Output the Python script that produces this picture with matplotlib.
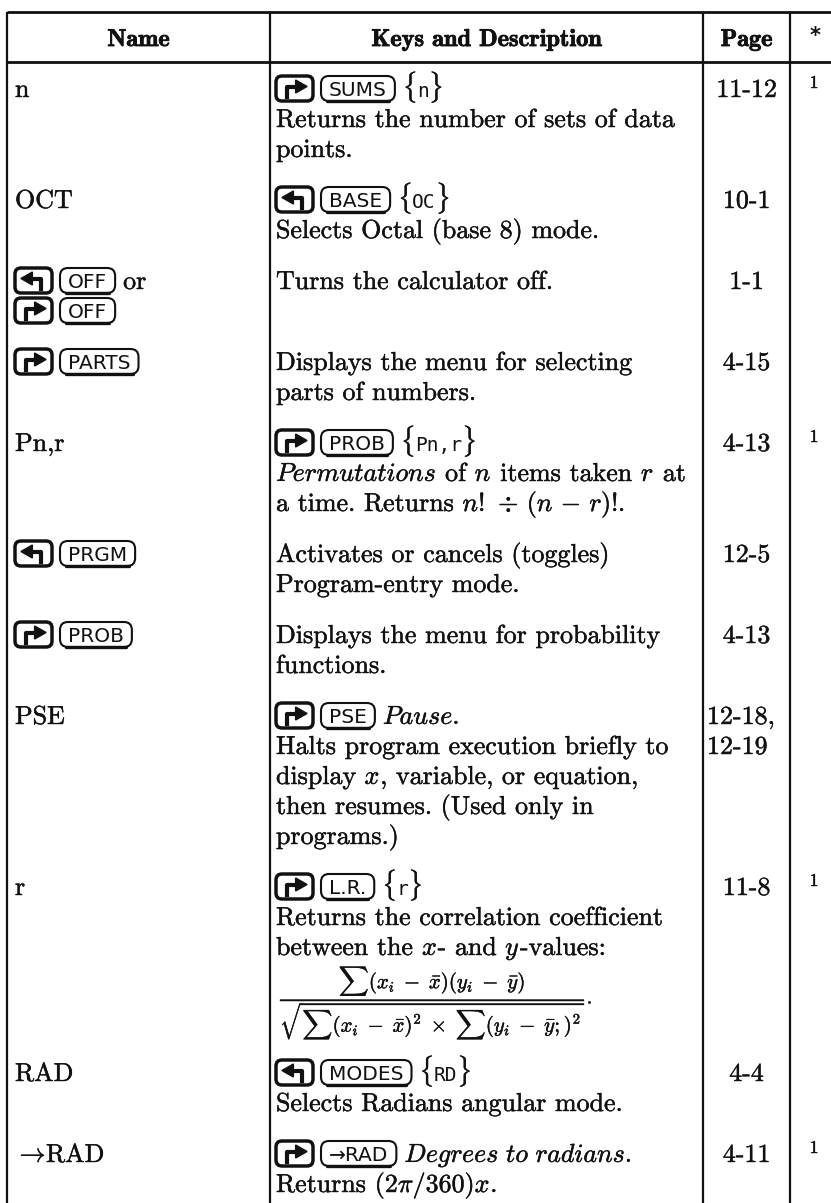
import re
import matplotlib
matplotlib.use("Agg")
import matplotlib.pyplot as plt
import matplotlib.patheffects as pe
from matplotlib.patches import FancyBboxPatch, Polygon

plt.rcParams['mathtext.fontset'] = 'cm'
plt.rcParams['axes.unicode_minus'] = False

# ---------------- data ----------------
headers = ["Name", "Keys and Description", "Page", "*"]

names = [
    ["n"],
    ["OCT"],
    ["[L] [OFF] or", "[R] [OFF]"],
    ["[R] [PARTS]"],
    ["Pn,r"],
    ["[L] [PRGM]"],
    ["[R] [PROB]"],
    ["PSE"],
    ["r"],
    ["RAD"],
    [r"$\rightarrow$RAD"],
]

descriptions = [
    ["[R] [SUMS] {n}", "Returns the number of sets of data", "points."],
    ["[L] [BASE] {OC}", "Selects Octal (base 8) mode."],
    ["Turns the calculator off."],
    ["Displays the menu for selecting", "parts of numbers."],
    ["[R] [PROB] {Pn,r}", r"$\mathit{Permutations}$ of $n$ items taken $r$ at",
     r"a time. Returns $n!\,\div\,(n\,-\,r)!$."],
    ["Activates or cancels (toggles)", "Program-entry mode."],
    ["Displays the menu for probability", "functions."],
    [r"[R] [PSE] $\mathit{Pause.}$", "Halts program execution briefly to",
     r"display $x$, variable, or equation,", "then resumes. (Used only in", "programs.)"],
    ["[R] [L.R.] {r}", "Returns the correlation coefficient",
     r"between the $x$- and $y$-values:"],
    ["[L] [MODES] {RD}", "Selects Radians angular mode."],
    [r"[R] [→RAD] $\mathit{Degrees\ to\ radians.}$", r"Returns $(2\pi/360)x$."],
]

pages = [["11-12"], ["10-1"], ["1-1"], ["4-15"], ["4-13"], ["12-5"], ["4-13"],
         ["12-18,", "12-19"], ["11-8"], ["4-4"], ["4-11"]]

notes = ["1", "", "", "", "1", "", "", "", "1", "", "1"]

formula_row = 8
formula = (r"$\dfrac{\sum(x_i\;-\;\bar{x})(y_i\;-\;\bar{y})}"
           r"{\sqrt{\sum(x_i\;-\;\bar{x})^2\;\times\;\sum(y_i\;-\;\bar{y};)^2}}$.")

# ---------------- layout ----------------
W, H = 831, 1203
fig = plt.figure(figsize=(W / 100, H / 100), dpi=100)
ax = fig.add_axes([0, 0, 1, 1])
ax.set_xlim(0, W)
ax.set_ylim(H, 0)
ax.axis('off')
renderer = fig.canvas.get_renderer()

INK = '#111111'
THIN = [pe.withStroke(linewidth=0.3, foreground=INK)]
THICK = [pe.withStroke(linewidth=0.6, foreground=INK)]
BODY_FS = 18.7
BODY = dict(family='cmr10', size=BODY_FS, color=INK, path_effects=THIN)
KEY_FS = 14.5
LCD_FS = 14

col_x = [7, 270, 703, 790, W]
top_y, head_y = 12, 62
P, G, FORMULA_EXTRA = 30, 51, 75
FIRST = 90
BASE_OFF = 7
KEY_GAP = 8


def width(t):
    return t.get_window_extent(renderer).width


_t1 = ax.text(0, -100, "n n", **BODY)
_t2 = ax.text(0, -100, "nn", **BODY)
SP = width(_t1) - width(_t2)
_t1.remove(); _t2.remove()


def shift_key(x, base, side):
    w, h = 37, 25
    yc = base - 8.5
    ax.add_patch(FancyBboxPatch((x, yc - h / 2), w, h,
                                boxstyle="round,pad=0,rounding_size=6",
                                lw=2.5, ec=INK, fc='white', zorder=3))
    ym = yc - 2
    if side == 'R':
        xs = [x + 0.30 * w, x + 0.30 * w, x + 0.55 * w]
        ys = [yc + 0.34 * h, ym, ym]
        head = [(x + 0.53 * w, ym - 6.5), (x + 0.84 * w, ym), (x + 0.53 * w, ym + 6.5)]
    else:
        xs = [x + 0.70 * w, x + 0.70 * w, x + 0.45 * w]
        ys = [yc + 0.34 * h, ym, ym]
        head = [(x + 0.47 * w, ym - 6.5), (x + 0.16 * w, ym), (x + 0.47 * w, ym + 6.5)]
    ax.plot(xs, ys, color=INK, lw=3.0, solid_joinstyle='round', zorder=4)
    ax.add_patch(Polygon(head, closed=True, color=INK, zorder=4))
    return w


def key_cap(x, base, label):
    pad = 8
    yc = base - 8.5
    t = ax.text(x + pad, yc + 7.3, label, family='DejaVu Sans', size=KEY_FS,
                color=INK, va='baseline', ha='left', zorder=5)
    w = width(t) + 2 * pad
    ax.add_patch(FancyBboxPatch((x, yc - 12.5), w, 25,
                                boxstyle="round,pad=0,rounding_size=8",
                                lw=1.5, ec=INK, fc='white', zorder=3))
    ax.plot([x + 6, x + w - 6], [yc + 12.3, yc + 12.3], color=INK, lw=2.4,
            solid_capstyle='round', zorder=4)
    return w


def draw_line(x0, base, s):
    x = x0
    tokens = re.split(r'(\$[^$]*\$|\[[^\]]+\]|\{[^}]*\})', s)
    prev_key = False
    for tok in tokens:
        if tok == "":
            continue
        if tok.startswith('[') and tok.endswith(']'):
            if prev_key:
                x += KEY_GAP
            lab = tok[1:-1]
            if lab in ('L', 'R'):
                x += shift_key(x, base, lab)
            else:
                x += key_cap(x, base, lab)
            prev_key = True
            continue
        if tok.strip(' ') == "" and prev_key:
            continue
        if prev_key:
            x += KEY_GAP
            tok = tok.lstrip(' ')
        prev_key = False
        if tok.startswith('{') and tok.endswith('}'):
            t = ax.text(x, base, r"$\{$", va='baseline', ha='left', **BODY)
            x += width(t)
            t = ax.text(x, base, tok[1:-1], family='DejaVu Sans Mono', size=LCD_FS,
                        color=INK, va='baseline', ha='left')
            x += width(t)
            t = ax.text(x, base, r"$\}$", va='baseline', ha='left', **BODY)
            x += width(t)
        elif tok.startswith('$'):
            t = ax.text(x, base, tok, va='baseline', ha='left', **BODY)
            x += width(t)
        else:
            lead = len(tok) - len(tok.lstrip(' '))
            trail = len(tok) - len(tok.rstrip(' '))
            core = tok.strip(' ')
            x += lead * SP
            if core:
                t = ax.text(x, base, core, va='baseline', ha='left', **BODY)
                x += width(t)
            x += trail * SP
    return x


# ---------------- rules ----------------
ax.plot([col_x[0], W], [top_y, top_y], color=INK, lw=2.0, solid_capstyle='butt')
ax.plot([col_x[0], W], [head_y, head_y], color=INK, lw=2.0, solid_capstyle='butt')
for cx in col_x[:4]:
    ax.plot([cx, cx], [top_y, H], color=INK, lw=1.6, solid_capstyle='butt')

# ---------------- header ----------------
head_base = 46
for i, htxt in enumerate(headers):
    cx = (col_x[i] + col_x[i + 1]) / 2
    if htxt == "*":
        ax.text(815, 36, htxt, family='DejaVu Sans', weight='bold', size=15,
                color=INK, ha='center', va='center')
    else:
        ax.text(cx, head_base, htxt, family='cmb10', size=17.5, color=INK,
                ha='center', va='baseline', path_effects=THICK)

# ---------------- rows ----------------
y = FIRST
for i in range(len(names)):
    base = y + BASE_OFF
    for j, s in enumerate(names[i]):
        draw_line(15, base + j * P, s)
    for j, s in enumerate(descriptions[i]):
        draw_line(276, base + j * P, s)
    for j, s in enumerate(pages[i]):
        if len(pages[i]) > 1:
            ax.text(707, base + j * P, s, ha='left', va='baseline', **BODY)
        else:
            ax.text((col_x[2] + col_x[3]) / 2, base + j * P, s, ha='center',
                    va='baseline', **BODY)
    if notes[i]:
        ax.text(814, base - 9, notes[i], family='cmr10', size=13, color=INK,
                ha='center', va='baseline', path_effects=THIN)
    nl = max(len(names[i]), len(descriptions[i]), len(pages[i]))
    if i == formula_row:
        ax.text(280, y + (nl - 1) * P + 54, formula, family='cmr10', size=15,
                color=INK, ha='left', va='center', path_effects=THIN)
    y += (nl - 1) * P + G + (FORMULA_EXTRA if i == formula_row else 0)

fig.savefig("out.png", dpi=100, facecolor='white')
